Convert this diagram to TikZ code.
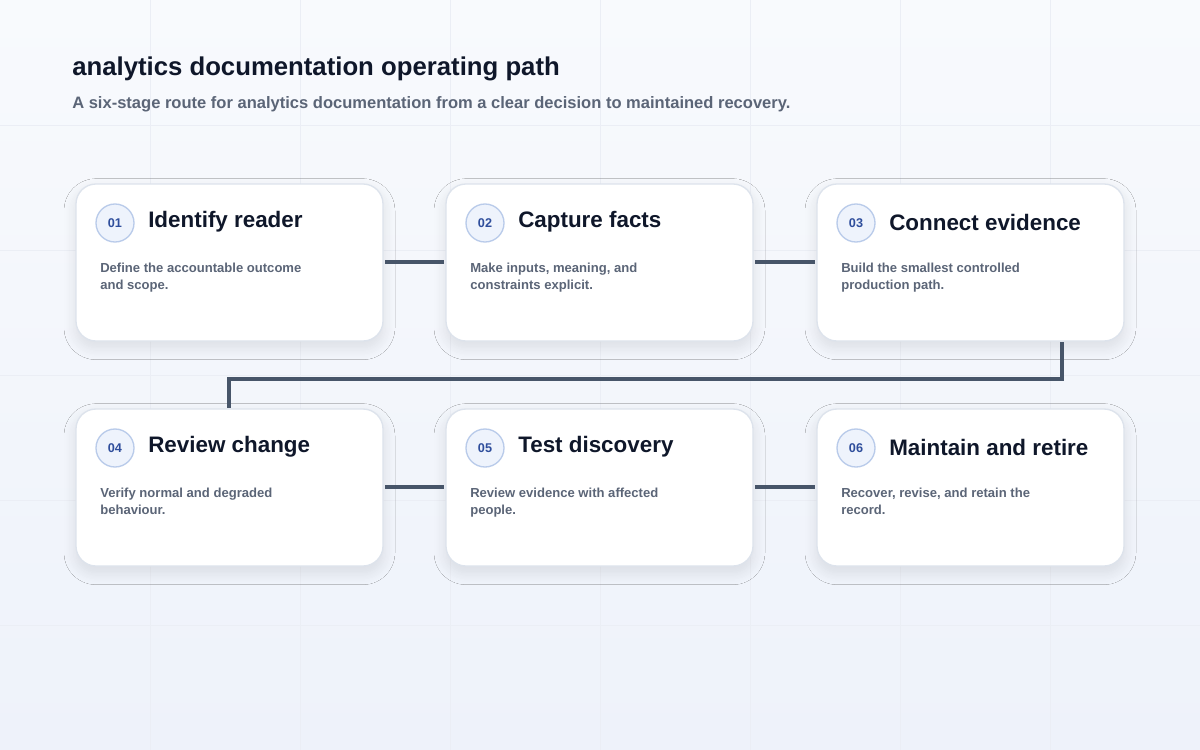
\documentclass[tikz,border=0pt]{standalone}
\usepackage{fontspec}
\setmainfont{Liberation Sans}
\usetikzlibrary{shadows.blur}
\definecolor{bgA}{HTML}{F8FAFD}
\definecolor{bgB}{HTML}{EEF2FA}
\definecolor{gridc}{HTML}{EBEEF5}
\definecolor{ink}{HTML}{0F172A}
\definecolor{muted}{HTML}{5B6577}
\definecolor{line}{HTML}{475569}
\definecolor{cardb}{HTML}{DDE3EC}
\definecolor{badgef}{HTML}{EEF3FC}
\definecolor{badged}{HTML}{B9CBEA}
\definecolor{badget}{HTML}{2F4E9C}
\begin{document}
\begin{tikzpicture}[x=0.75pt,y=-0.75pt,
  card/.style={draw=cardb,line width=1pt,fill=white,rounded corners=15pt,blur shadow={shadow blur steps=10,shadow blur radius=9pt,shadow xshift=0pt,shadow yshift=-5pt,shadow opacity=10}},
  badge/.style={circle,draw=badged,line width=1pt,fill=badgef,minimum size=28.5pt,inner sep=0pt,text=badget,font=\bfseries\fontsize{9.5}{11}\selectfont},
  ttl/.style={anchor=west,text=ink,font=\bfseries\fontsize{16.8}{20}\selectfont,inner sep=0pt},
  body/.style={anchor=north west,text=muted,font=\bfseries\fontsize{9.8}{12.6}\selectfont,align=left,inner sep=0pt},
  conn/.style={draw=line,line width=3pt}]
\useasboundingbox (0,0) rectangle (1200,750);
\shade[top color=bgA,bottom color=bgB] (0,0) rectangle (1200,750);
\foreach \x in {150,300,...,1050} \draw[gridc,line width=0.6pt] (\x,0) -- (\x,750);
\foreach \y in {125,250,...,625} \draw[gridc,line width=0.6pt] (0,\y) -- (1200,\y);
\node[anchor=west,inner sep=0pt,text=ink,font=\bfseries\fontsize{19.3}{23}\selectfont] (title) at (72,69) {analytics documentation operating path};
\node[anchor=west,inner sep=0pt,text=muted,font=\bfseries\fontsize{12.4}{15}\selectfont] (sub) at (72,104) {A six-stage route for analytics documentation from a clear decision to maintained recovery.};
\foreach \i/\x/\y/\t/\a/\b in {
 1/76/184/{Identify reader}/{Define the accountable outcome}/{and scope.},
 2/446/184/{Capture facts}/{Make inputs, meaning, and}/{constraints explicit.},
 3/817/184/{Connect evidence}/{Build the smallest controlled}/{production path.},
 4/76/409/{Review change}/{Verify normal and degraded}/{behaviour.},
 5/446/409/{Test discovery}/{Review evidence with affected}/{people.},
 6/817/409/{Maintain and retire}/{Recover, revise, and retain the}/{record.}}{
  \path[card] (\x,\y) rectangle +(307,157);
  \coordinate (c\i w) at (\x-2,\y+78);
  \coordinate (c\i e) at (\x+309,\y+78);
  \node[badge] (b\i) at (\x+39,\y+39) {0\i};
  \node[ttl] (t\i) at (\x+72,\y+38) {\t};
  \node[body] (d\i) at (\x+24,\y+79) {\a\\\b};
}
\draw[conn] (c1e) -- (c2w);
\draw[conn] (c2e) -- (c3w);
\draw[conn] (c4e) -- (c5w);
\draw[conn] (c5e) -- (c6w);
\coordinate (c3b) at (1062,342);
\coordinate (c4t) at (229,408);
\draw[conn] (c3b) -- (1062,379) -- (229,379) -- (c4t);
\end{tikzpicture}
\end{document}
